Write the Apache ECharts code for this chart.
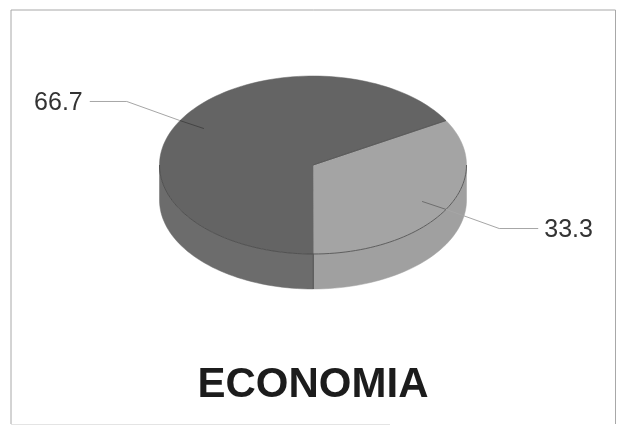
<!DOCTYPE html>
<html>
<head>
<meta charset="utf-8">
<style>html,body{margin:0;padding:0;background:#fff}#c{width:621px;height:426px}</style>
<script src="https://cdn.jsdelivr.net/npm/echarts@6/dist/echarts.min.js"></script>
</head>
<body>
<div id="c"></div>
<script>
var categories = ['B', 'A'];
var values = [33.3, 66.7];
var topColors = ['#a4a4a4', '#646464'];
var wallColors = ['#a0a0a0', '#6c6c6c'];
var titleText = 'ECONOMIA';

var cx = 313, cy = 165, rx = 153.5, ry = 89, depth = 35;
var startDeg = -30;
var total = values.reduce(function (a, b) { return a + b; }, 0);

function pt(deg, k, dy) {
  var r = deg * Math.PI / 180;
  return [cx + k * rx * Math.cos(r), cy + (dy || 0) + k * ry * Math.sin(r)];
}
function arc(a, b, dy) {
  var pts = [], n = Math.max(2, Math.ceil(Math.abs(b - a) / 2));
  for (var i = 0; i <= n; i++) pts.push(pt(a + (b - a) * i / n, 1, dy));
  return pts;
}

function renderItem(params, api) {
  var idx = params.dataIndex, before = 0;
  for (var i = 0; i < idx; i++) before += values[i];
  var val = api.value(1);
  var a = startDeg + before / total * 360;
  var b = a + val / total * 360;
  var mid = (a + b) / 2;
  var children = [];

  var wa = Math.max(a, 0), wb = Math.min(b, 180);
  if (wb > wa) {
    var wall = arc(wa, wb, 0).concat(arc(wa, wb, depth).reverse());
    children.push({
      type: 'polygon', z2: 1, shape: { points: wall },
      style: { fill: wallColors[idx], stroke: wallColors[idx], lineWidth: 0.5 }
    });
    children.push({
      type: 'polyline', z2: 3, shape: { points: arc(wa, wb, 0) },
      style: { fill: null, stroke: '#4a4a4a', lineWidth: 0.8 }
    });
    if (wa === 0 || wb === 180) {
      var edge = wa === 0 ? wb : wa;
      children.push({
        type: 'line', z2: 3,
        shape: { x1: pt(edge, 1)[0], y1: pt(edge, 1)[1], x2: pt(edge, 1, depth)[0], y2: pt(edge, 1, depth)[1] },
        style: { stroke: '#5a5a5a', lineWidth: 0.8 }
      });
    }
  }

  var top = [[cx, cy]].concat(arc(a, b, 0));
  children.push({
    type: 'polygon', z2: 2, shape: { points: top },
    style: { fill: topColors[idx], stroke: topColors[idx], lineWidth: 0.5 }
  });
  children.push({
    type: 'line', z2: 3,
    shape: { x1: cx, y1: cy, x2: pt(startDeg, 1)[0], y2: pt(startDeg, 1)[1] },
    style: { stroke: '#555', lineWidth: 0.6 }
  });

  var p0 = pt(mid, 0.82), pe = pt(mid, 1);
  var p1 = [pt(mid, 1.4)[0], pt(mid, 1.43)[1]];
  var right = Math.cos(mid * Math.PI / 180) > 0;
  var p2 = [p1[0] + (right ? 39 : -37), p1[1]];
  children.push({
    type: 'line', z2: 4, shape: { x1: p0[0], y1: p0[1], x2: pe[0], y2: pe[1] },
    style: { stroke: right ? '#6e6e6e' : '#444444', lineWidth: 1 }
  });
  children.push({
    type: 'polyline', z2: 4, shape: { points: [pe, p1, p2] },
    style: { fill: null, stroke: '#a6a6a6', lineWidth: 1 }
  });
  children.push({
    type: 'text', z2: 5,
    style: {
      x: p2[0] + (right ? 6 : -7), y: p2[1] + 1.5,
      text: val.toFixed(1),
      fill: '#333333', font: '25px "Liberation Sans", Arial, sans-serif',
      align: right ? 'left' : 'right', verticalAlign: 'middle'
    }
  });
  return { type: 'group', children: children };
}

var chart = echarts.init(document.getElementById('c'), null, { renderer: 'canvas' });
chart.setOption({
  animation: false,
  backgroundColor: '#ffffff',
  title: {
    text: titleText, left: 308, top: 359, textAlign: 'center',
    textStyle: { fontFamily: '"Liberation Sans", Arial, sans-serif', fontWeight: 'bold', fontSize: 42, color: '#1c1c1c' }
  },
  graphic: [{
    type: 'polyline', silent: true, z: -1,
    shape: { points: [[11, 424], [11, 10], [615.5, 10], [615.5, 424]] },
    style: { fill: null, stroke: '#a8a8a8', lineWidth: 1 }
  }, {
    type: 'line', silent: true, z: -1,
    shape: { x1: 11, y1: 424.5, x2: 390, y2: 424.5 },
    style: { stroke: '#e4e4e4', lineWidth: 1 }
  }],
  series: [{
    type: 'custom', coordinateSystem: 'none', renderItem: renderItem,
    data: categories.map(function (c, i) { return [c, values[i]]; })
  }]
});
</script>
</body>
</html>
